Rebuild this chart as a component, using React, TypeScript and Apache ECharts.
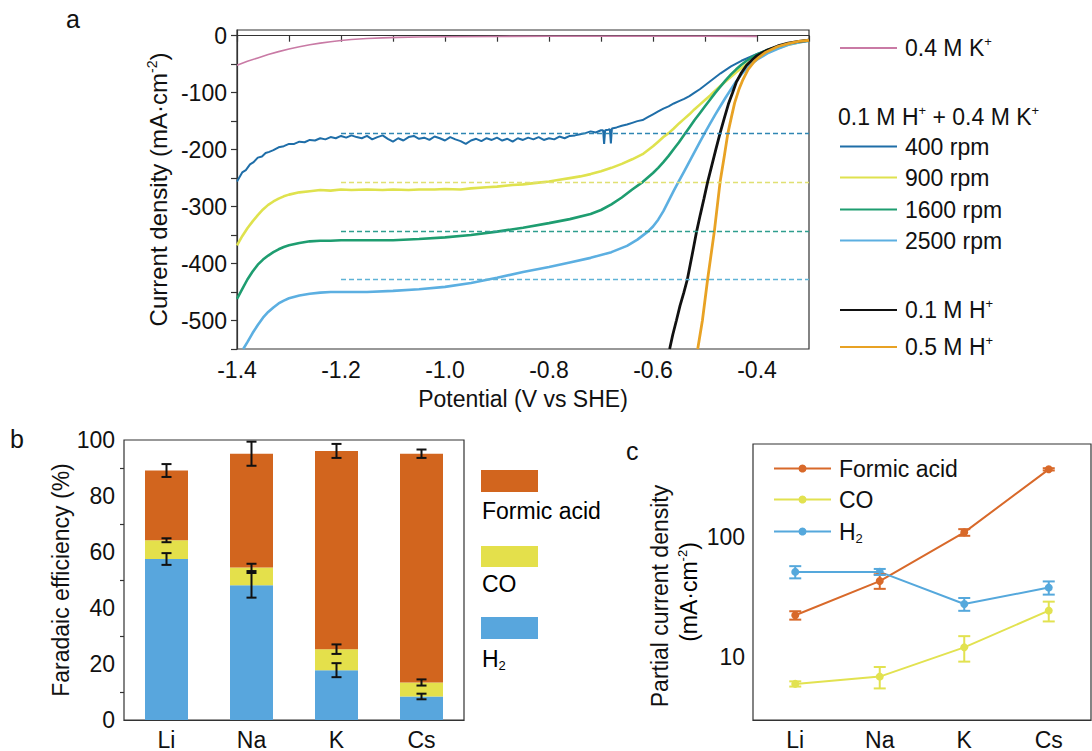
import React, { useEffect, useRef } from 'react';
import * as echarts from 'echarts';

const FONT = 'Arial, "Liberation Sans", Helvetica, sans-serif';
const INK = '#111';

// ---------- panel a: LSV curves [potential V, current density mA/cm2] ----------
const curveK04: number[][] = [
  [-1.4, -52], [-1.38, -45], [-1.36, -39], [-1.34, -33], [-1.32, -28], [-1.3, -23.5], [-1.28, -19.5],
  [-1.26, -16], [-1.24, -13], [-1.22, -10.5], [-1.2, -8.5], [-1.18, -6.8], [-1.15, -5], [-1.12, -3.8],
  [-1.09, -3], [-1.05, -2.3], [-1.0, -1.8], [-0.9, -1.3], [-0.8, -1.1], [-0.7, -1], [-0.6, -1], [-0.5, -1], [-0.4, -1.2],
];
const curve400: number[][] = [
  [-1.4, -256], [-1.395, -248], [-1.39, -240], [-1.383, -236], [-1.375, -226], [-1.368, -222], [-1.36, -214],
  [-1.352, -212], [-1.345, -206], [-1.338, -204], [-1.33, -201], [-1.32, -196], [-1.31, -194], [-1.3, -190],
  [-1.29, -190], [-1.28, -186], [-1.27, -187], [-1.26, -183], [-1.25, -184], [-1.24, -180], [-1.23, -182],
  [-1.22, -178], [-1.21, -180], [-1.2, -176], [-1.19, -179], [-1.18, -175], [-1.17, -178], [-1.16, -180],
  [-1.15, -176], [-1.14, -182], [-1.13, -178], [-1.12, -175], [-1.11, -181], [-1.1, -186], [-1.09, -180],
  [-1.08, -184], [-1.07, -178], [-1.06, -176], [-1.05, -181], [-1.04, -179], [-1.03, -183], [-1.02, -177],
  [-1.01, -180], [-1.0, -184], [-0.99, -178], [-0.98, -182], [-0.97, -185], [-0.96, -190], [-0.95, -184],
  [-0.94, -181], [-0.93, -185], [-0.92, -180], [-0.91, -183], [-0.9, -179], [-0.89, -184], [-0.88, -181],
  [-0.87, -186], [-0.86, -180], [-0.85, -183], [-0.84, -179], [-0.83, -182], [-0.82, -178], [-0.81, -183],
  [-0.8, -180], [-0.79, -182], [-0.78, -177], [-0.77, -180], [-0.76, -176], [-0.75, -175], [-0.74, -173],
  [-0.73, -171], [-0.72, -168], [-0.71, -170], [-0.7, -166], [-0.696, -166], [-0.694, -190], [-0.692, -166],
  [-0.686, -165], [-0.683, -164], [-0.681, -189], [-0.679, -163], [-0.67, -161], [-0.66, -158], [-0.65, -156],
  [-0.64, -153], [-0.63, -150], [-0.62, -148], [-0.61, -143], [-0.6, -138], [-0.59, -133], [-0.58, -128],
  [-0.57, -124], [-0.56, -119], [-0.55, -115], [-0.54, -111], [-0.53, -106], [-0.52, -100], [-0.51, -94],
  [-0.5, -87], [-0.49, -80], [-0.48, -73], [-0.47, -66], [-0.46, -60], [-0.45, -54], [-0.44, -49],
  [-0.43, -44], [-0.42, -40], [-0.41, -36], [-0.4, -32], [-0.38, -25], [-0.36, -19], [-0.34, -14],
  [-0.32, -10], [-0.3, -7],
];
const curve900: number[][] = [
  [-1.4, -368], [-1.39, -352], [-1.38, -338], [-1.37, -326], [-1.36, -315], [-1.35, -305], [-1.34, -297],
  [-1.33, -291], [-1.32, -286], [-1.31, -282], [-1.3, -279], [-1.28, -275], [-1.26, -273], [-1.24, -271],
  [-1.22, -272], [-1.2, -270], [-1.18, -271], [-1.15, -270], [-1.12, -271], [-1.1, -270], [-1.07, -271],
  [-1.05, -270], [-1.02, -270], [-1.0, -269], [-0.97, -270], [-0.95, -268], [-0.92, -266], [-0.9, -265],
  [-0.87, -262], [-0.85, -261], [-0.82, -258], [-0.8, -256], [-0.78, -253], [-0.76, -250], [-0.74, -247],
  [-0.72, -243], [-0.7, -238], [-0.68, -232], [-0.66, -225], [-0.64, -217], [-0.62, -208], [-0.61, -201],
  [-0.6, -194], [-0.59, -186], [-0.58, -178], [-0.57, -171], [-0.56, -163], [-0.55, -154], [-0.54, -146],
  [-0.53, -138], [-0.52, -129], [-0.51, -121], [-0.5, -113], [-0.49, -105], [-0.48, -96], [-0.47, -88],
  [-0.46, -80], [-0.45, -72], [-0.44, -64], [-0.43, -57], [-0.42, -50], [-0.41, -44], [-0.4, -38],
  [-0.38, -29], [-0.36, -22], [-0.34, -16], [-0.32, -12], [-0.3, -8],
];
const curve1600: number[][] = [
  [-1.4, -462], [-1.39, -445], [-1.38, -428], [-1.37, -414], [-1.36, -402], [-1.35, -393], [-1.34, -386],
  [-1.33, -380], [-1.32, -375], [-1.31, -371], [-1.3, -368], [-1.28, -364], [-1.26, -361], [-1.24, -360],
  [-1.22, -360], [-1.2, -359], [-1.15, -359], [-1.1, -359], [-1.05, -357], [-1.0, -354], [-0.95, -350],
  [-0.9, -344], [-0.85, -337], [-0.8, -329], [-0.76, -322], [-0.72, -313], [-0.7, -306], [-0.68, -296],
  [-0.66, -284], [-0.64, -270], [-0.62, -257], [-0.6, -241], [-0.59, -232], [-0.58, -222], [-0.57, -211],
  [-0.56, -199], [-0.55, -187], [-0.54, -174], [-0.53, -161], [-0.52, -148], [-0.51, -136], [-0.5, -124],
  [-0.49, -112], [-0.48, -100], [-0.47, -89], [-0.46, -78], [-0.45, -68], [-0.44, -59], [-0.43, -51],
  [-0.42, -44], [-0.41, -38], [-0.4, -33], [-0.38, -25], [-0.36, -19], [-0.34, -14], [-0.32, -11], [-0.3, -9],
];
const curve2500: number[][] = [
  [-1.388, -550], [-1.38, -538], [-1.37, -522], [-1.36, -508], [-1.35, -495], [-1.34, -485], [-1.33, -477],
  [-1.32, -470], [-1.31, -465], [-1.3, -461], [-1.28, -456], [-1.26, -453], [-1.24, -451], [-1.22, -450],
  [-1.2, -450], [-1.15, -450], [-1.1, -448], [-1.05, -445], [-1.0, -441], [-0.95, -434], [-0.9, -425],
  [-0.85, -415], [-0.8, -406], [-0.76, -398], [-0.72, -390], [-0.68, -380], [-0.65, -369], [-0.63, -358],
  [-0.61, -344], [-0.6, -335], [-0.59, -323], [-0.58, -308], [-0.57, -290], [-0.56, -272], [-0.55, -255],
  [-0.54, -238], [-0.53, -221], [-0.52, -204], [-0.51, -187], [-0.5, -170], [-0.49, -154], [-0.48, -138],
  [-0.47, -123], [-0.46, -108], [-0.45, -94], [-0.44, -80], [-0.43, -68], [-0.42, -58], [-0.41, -49],
  [-0.4, -42], [-0.38, -31], [-0.36, -23], [-0.34, -16], [-0.32, -12], [-0.3, -9],
];
const curveH01: number[][] = [
  [-0.568, -550], [-0.562, -525], [-0.555, -500], [-0.548, -474], [-0.541, -452], [-0.534, -428],
  [-0.528, -400], [-0.522, -372], [-0.516, -343], [-0.509, -314], [-0.502, -286], [-0.495, -257],
  [-0.487, -228], [-0.479, -199], [-0.471, -171], [-0.463, -145], [-0.455, -120], [-0.447, -100],
  [-0.44, -82], [-0.43, -65], [-0.42, -52], [-0.41, -43], [-0.4, -35], [-0.39, -30], [-0.38, -25],
  [-0.36, -18], [-0.34, -13], [-0.32, -10], [-0.3, -8],
];
const curveH05: number[][] = [
  [-0.514, -550], [-0.505, -500], [-0.495, -428], [-0.482, -343], [-0.471, -257], [-0.463, -212],
  [-0.456, -171], [-0.449, -142], [-0.443, -118], [-0.435, -95], [-0.427, -77], [-0.417, -59],
  [-0.405, -45], [-0.395, -37], [-0.383, -29], [-0.36, -19], [-0.34, -14], [-0.32, -10], [-0.3, -8],
];
const limitingCurrents = [-171, -257, -343, -428]; // 400, 900, 1600, 2500 rpm
const limitStart = -1.2;
const limitEnd = -0.3;
const yTicksA = [-550, -500, -450, -400, -350, -300, -250, -200, -150, -100, -50, 0];
const yLabelsA = [-500, -400, -300, -200, -100, 0];

// ---------- panel b: Faradaic efficiency (%) ----------
const cations = ['Li', 'Na', 'K', 'Cs'];
const feH2 = [57.5, 48.1, 17.8, 8.4];
const feCO = [6.7, 6.4, 7.5, 5.0];
const feFormic = [24.9, 40.6, 70.8, 81.7];
const feErrH2 = [2.1, 4.4, 2.5, 1.0];
const feErrCO = [0.7, 1.3, 1.7, 1.1];
const feErrFormic = [2.3, 4.3, 2.5, 1.5];

// ---------- panel c: partial current density (mA/cm2) ----------
const jFormic = [22.4, 43.2, 110, 369];
const jCO = [6.0, 6.9, 12.1, 24.5];
const jH2 = [51.5, 51.5, 27.8, 38.1];
const jErrFormic = [1.8, 6, 7, 8];
const jErrCO = [0.3, 1.4, 2.9, 4.6];
const jErrH2 = [6, 3, 3.4, 4.8];
const logMajor = [10, 100];
const logMinor = [3, 4, 5, 6, 7, 8, 9, 20, 30, 40, 50, 60, 70, 80, 90, 200, 300, 400, 500, 600];

const C = {
  pink: '#c97aa5', blue400: '#1f6ea8', yel900: '#dfe24e', grn1600: '#1e9d70', blu2500: '#5cafe1',
  black: '#111111', orange: '#e8a224',
  formic: '#d2651e', co: '#e4e04b', h2: '#58a6dd',
  cFormic: '#d8692a', cCO: '#e2e250', cH2: '#55a8dc',
};
const dashColors = ['#2f86b3', '#e0e072', '#2f9e8e', '#5fb3d6'];

const FS = 23;
const rich = (size: number, lh: number) => ({
  n: { fontSize: size, fontFamily: FONT, color: INK, lineHeight: lh },
  sup: { fontSize: Math.round(size * 0.58), fontFamily: FONT, color: INK, lineHeight: 12, verticalAlign: 'top' as const },
  sub: { fontSize: Math.round(size * 0.58), fontFamily: FONT, color: INK, lineHeight: 10, verticalAlign: 'bottom' as const },
});

const legendRich: Record<string, string> = {
  '0.4 M K+': '{n|0.4 M K}{sup|+}',
  '400 rpm': '{n|400 rpm}',
  '900 rpm': '{n|900 rpm}',
  '1600 rpm': '{n|1600 rpm}',
  '2500 rpm': '{n|2500 rpm}',
  '0.1 M H+': '{n|0.1 M H}{sup|+}',
  '0.5 M H+': '{n|0.5 M H}{sup|+}',
  'Formic acid': '{n|Formic acid}',
  'CO': '{n|CO}',
  'H2': '{n|H}{sub|2}',
};

const axisLineStyle = { color: '#333', width: 1.2 };

function errorSeries(name: string, xIdx: number, yIdx: number, data: number[][], color: string, cap: number) {
  return {
    type: 'custom',
    name,
    xAxisIndex: xIdx,
    yAxisIndex: yIdx,
    silent: true,
    z: 5,
    encode: { x: 0, y: [1, 2] },
    data,
    renderItem: (_p: any, api: any) => {
      const x = api.value(0);
      const lo = api.coord([x, api.value(1)]);
      const hi = api.coord([x, api.value(2)]);
      const st = { stroke: color, lineWidth: 2 };
      return {
        type: 'group',
        children: [
          { type: 'line', shape: { x1: lo[0], y1: lo[1], x2: hi[0], y2: hi[1] }, style: st },
          { type: 'line', shape: { x1: lo[0] - cap, y1: lo[1], x2: lo[0] + cap, y2: lo[1] }, style: st },
          { type: 'line', shape: { x1: hi[0] - cap, y1: hi[1], x2: hi[0] + cap, y2: hi[1] }, style: st },
        ],
      };
    },
  };
}

function buildOption() {
  const r = rich(FS, 26);
  const lsv = (name: string, data: number[][], color: string, width: number, limitIdx: number | null) => ({
    type: 'line', name, xAxisIndex: 0, yAxisIndex: 0, data, showSymbol: false, symbol: 'none',
    lineStyle: { color, width }, itemStyle: { color },
    markLine: limitIdx === null ? undefined : {
      silent: true, symbol: 'none', label: { show: false },
      lineStyle: { color: dashColors[limitIdx], width: 1.3, type: [5, 3] },
      data: [[{ coord: [limitStart, limitingCurrents[limitIdx]] }, { coord: [limitEnd, limitingCurrents[limitIdx]] }]],
    },
  });

  const cumCO = feH2.map((v, i) => v + feCO[i]);
  const cumAll = cumCO.map((v, i) => v + feFormic[i]);
  const fe = (tops: number[], errs: number[]) => tops.map((t, i) => [i, t - errs[i], t + errs[i]]);
  const jerr = (vals: number[], errs: number[]) => vals.map((v, i) => [i, v - errs[i], v + errs[i]]);

  const base = {
    orient: 'vertical', itemGap: 0, padding: 0, selectedMode: false,
    formatter: (n: string) => legendRich[n] || n,
    textStyle: { fontSize: FS, fontFamily: FONT, color: INK, rich: r, padding: [0, 0, 0, 3] },
  };
  const lgA = (name: string, cy: number) => ({
    ...base, data: [{ name, icon: 'rect' }], left: 840, top: cy - 13, itemWidth: 57, itemHeight: 1.8,
  });
  const lgC = (name: string, cy: number) => ({
    ...base, data: [name], left: 773, top: cy - 13, itemWidth: 57, itemHeight: 10,
  });

  return {
    animation: false,
    backgroundColor: '#ffffff',
    textStyle: { fontFamily: FONT },
    grid: [
      { left: 237, top: 30, width: 572, height: 319, show: true, borderColor: '#333', borderWidth: 1.2 },
      { left: 124, top: 440, width: 340, height: 280, show: true, borderColor: '#333', borderWidth: 1.2 },
      { left: 753, top: 444, width: 338, height: 279, show: true, borderColor: '#333', borderWidth: 1.2 },
    ],
    xAxis: [
      {
        type: 'value', gridIndex: 0, min: -1.4, max: -0.3, interval: 0.1,
        axisLine: { lineStyle: axisLineStyle }, axisTick: { length: 6, lineStyle: axisLineStyle },
        splitLine: { show: false },
        axisLabel: {
          fontSize: FS, color: INK, fontFamily: FONT, margin: 9,
          formatter: (v: number) => (Math.abs(Math.round(v * 10)) % 2 === 0 ? v.toFixed(1) : ''),
        },
        name: 'Potential (V vs SHE)', nameLocation: 'middle', nameGap: 38,
        nameTextStyle: { fontSize: FS, color: INK, fontFamily: FONT },
      },
      {
        type: 'category', gridIndex: 1, data: cations, axisTick: { show: false },
        axisLine: { lineStyle: axisLineStyle },
        axisLabel: { fontSize: FS, color: INK, fontFamily: FONT, margin: 8 },
      },
      {
        type: 'category', gridIndex: 2, data: cations, axisTick: { show: false },
        axisLine: { lineStyle: axisLineStyle },
        axisLabel: { fontSize: FS, color: INK, fontFamily: FONT, margin: 8 },
      },
    ],
    yAxis: [
      {
        type: 'value', gridIndex: 0, min: -550, max: 10, interval: 50,
        axisLine: { lineStyle: axisLineStyle },
        axisTick: { length: 6, lineStyle: axisLineStyle, customValues: yTicksA },
        splitLine: { show: false },
        axisLabel: {
          fontSize: FS, color: INK, fontFamily: FONT, margin: 10, customValues: yLabelsA,
          formatter: (v: number) => (Math.round(v) % 100 === 0 ? String(Math.round(v)) : ''),
        },
        name: '{n|Current density (mA·cm}{sup|-2}{n|)}', nameLocation: 'middle', nameGap: 66, nameRotate: 90,
        nameTextStyle: { rich: rich(24, 26) },
      },
      {
        type: 'value', gridIndex: 1, min: 0, max: 100, interval: 20,
        axisLine: { lineStyle: axisLineStyle }, axisTick: { length: 6, lineStyle: axisLineStyle },
        minorTick: { show: true, splitNumber: 2, length: 4, lineStyle: axisLineStyle },
        splitLine: { show: false },
        axisLabel: { fontSize: FS, color: INK, fontFamily: FONT, margin: 9 },
        name: 'Faradaic efficiency (%)', nameLocation: 'middle', nameGap: 50, nameRotate: 90,
        nameTextStyle: { fontSize: FS, color: INK, fontFamily: FONT },
      },
      {
        type: 'log', logBase: 10, gridIndex: 2, min: 3, max: 600,
        axisLine: { lineStyle: axisLineStyle },
        axisTick: { length: 6, lineStyle: axisLineStyle, customValues: logMajor },
        splitLine: { show: false },
        axisLabel: {
          fontSize: FS, color: INK, fontFamily: FONT, margin: 8, customValues: logMajor,
          formatter: (v: number) => (Math.abs(v - 10) < 0.01 || Math.abs(v - 100) < 0.1 ? String(Math.round(v)) : ''),
        },
      },
      {
        type: 'log', logBase: 10, gridIndex: 2, min: 3, max: 600,
        axisLine: { show: false },
        axisTick: { length: 3.5, lineStyle: axisLineStyle, customValues: logMinor },
        axisLabel: { show: false, customValues: [] },
        splitLine: { show: false },
      },
    ],
    legend: [
      lgA('0.4 M K+', 48),
      lgA('400 rpm', 148),
      lgA('900 rpm', 179),
      lgA('1600 rpm', 211),
      lgA('2500 rpm', 242),
      lgA('0.1 M H+', 310),
      lgA('0.5 M H+', 347),
      lgC('Formic acid', 470),
      lgC('CO', 501),
      lgC('H2', 533),
    ],
    graphic: [
      { type: 'text', left: 66, top: 6, style: { text: 'a', fontSize: 25, fontFamily: FONT, fill: INK } },
      { type: 'text', left: 10, top: 426, style: { text: 'b', fontSize: 25, fontFamily: FONT, fill: INK } },
      { type: 'text', left: 626, top: 438, style: { text: 'c', fontSize: 25, fontFamily: FONT, fill: INK } },
      {
        type: 'text', left: 838, top: 104,
        style: { text: '{n|0.1 M H}{sup|+}{n| + 0.4 M K}{sup|+}', rich: r, fill: INK },
      },
      { type: 'rect', shape: { x: 481, y: 470, width: 57, height: 22 }, style: { fill: C.formic } },
      { type: 'rect', shape: { x: 481, y: 546, width: 57, height: 21 }, style: { fill: C.co } },
      { type: 'rect', shape: { x: 481, y: 617, width: 57, height: 22 }, style: { fill: C.h2 } },
      { type: 'text', left: 482, top: 499, style: { text: '{n|Formic acid}', rich: r } },
      { type: 'text', left: 482, top: 572, style: { text: '{n|CO}', rich: r } },
      { type: 'text', left: 482, top: 647, style: { text: '{n|H}{sub|2}', rich: r } },
      {
        type: 'text', x: 660, y: 596, rotation: Math.PI / 2,
        style: { text: 'Partial current density', fontSize: FS, fontFamily: FONT, fill: INK, align: 'center', verticalAlign: 'middle' },
      },
      {
        type: 'text', x: 689, y: 592, rotation: Math.PI / 2,
        style: { text: '{n|(mA·cm}{sup|-2}{n|)}', rich: r, align: 'center', verticalAlign: 'middle' },
      },
    ],
    series: [
      lsv('0.4 M K+', curveK04, C.pink, 1.6, null),
      lsv('400 rpm', curve400, C.blue400, 2, 0),
      lsv('900 rpm', curve900, C.yel900, 2.6, 1),
      lsv('1600 rpm', curve1600, C.grn1600, 2.6, 2),
      lsv('2500 rpm', curve2500, C.blu2500, 2.6, 3),
      lsv('0.1 M H+', curveH01, C.black, 2.8, null),
      lsv('0.5 M H+', curveH05, C.orange, 2.8, null),

      { type: 'bar', name: 'FE H2', xAxisIndex: 1, yAxisIndex: 1, stack: 'fe', barWidth: 43, data: feH2, itemStyle: { color: C.h2 } },
      { type: 'bar', name: 'FE CO', xAxisIndex: 1, yAxisIndex: 1, stack: 'fe', barWidth: 43, data: feCO, itemStyle: { color: C.co } },
      { type: 'bar', name: 'FE Formic', xAxisIndex: 1, yAxisIndex: 1, stack: 'fe', barWidth: 43, data: feFormic, itemStyle: { color: C.formic } },
      errorSeries('err H2', 1, 1, fe(feH2, feErrH2), '#111', 5),
      errorSeries('err CO', 1, 1, fe(cumCO, feErrCO), '#111', 5),
      errorSeries('err Formic', 1, 1, fe(cumAll, feErrFormic), '#111', 5),

      { type: 'line', name: 'Formic acid', xAxisIndex: 2, yAxisIndex: 2, data: jFormic, symbol: 'circle', symbolSize: 8, lineStyle: { color: C.cFormic, width: 2 }, itemStyle: { color: C.cFormic } },
      { type: 'line', name: 'CO', xAxisIndex: 2, yAxisIndex: 2, data: jCO, symbol: 'circle', symbolSize: 8, lineStyle: { color: C.cCO, width: 2 }, itemStyle: { color: C.cCO } },
      { type: 'line', name: 'H2', xAxisIndex: 2, yAxisIndex: 2, data: jH2, symbol: 'circle', symbolSize: 8, lineStyle: { color: C.cH2, width: 2 }, itemStyle: { color: C.cH2 } },
      errorSeries('err jFormic', 2, 2, jerr(jFormic, jErrFormic), C.cFormic, 6),
      errorSeries('err jCO', 2, 2, jerr(jCO, jErrCO), C.cCO, 6),
      errorSeries('err jH2', 2, 2, jerr(jH2, jErrH2), C.cH2, 6),
    ],
  };
}

export default function App() {
  const ref = useRef<HTMLDivElement>(null);
  useEffect(() => {
    if (!ref.current) return;
    const chart = echarts.init(ref.current, undefined, { renderer: 'svg' });
    chart.setOption(buildOption() as any);
    return () => chart.dispose();
  }, []);
  return (
    <div
      ref={ref}
      style={{ position: 'absolute', left: 0, top: 0, width: 1092, height: 751, background: '#fff' }}
    />
  );
}
